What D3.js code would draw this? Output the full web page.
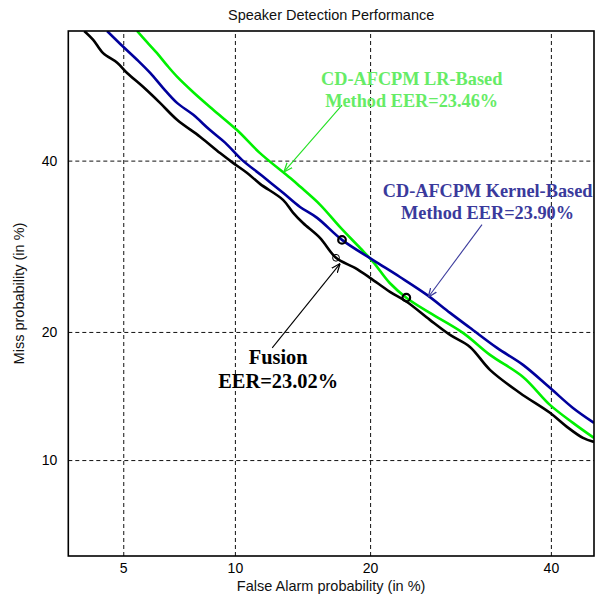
<!DOCTYPE html>
<html>
<head>
<meta charset="utf-8">
<script src="https://cdn.jsdelivr.net/npm/d3@7"></script>
<style>
  html, body { margin: 0; padding: 0; background: #fff; }
  svg { display: block; }
</style>
</head>
<body>
<svg id="det" width="607" height="597"></svg>
<script>
// Speaker detection DET curves (false alarm vs. miss, both in %), normal-deviate axes.

const xTicks = [5, 10, 20, 40];
const yTicks = [10, 20, 40];
const xLimits = [3.41, 45.5];
const yLimits = [5.36, 57.6];

// Fusion system
const fusionFA   = [3.82, 4.07, 4.36, 4.80, 5.13, 5.70, 6.36, 7.08, 8.15, 9.18, 9.89, 10.70, 11.51, 13.03, 13.73, 14.46, 15.75, 17.04, 18.65, 19.99, 21.86, 23.53, 25.88, 28.05, 30.27, 32.58, 36.17, 39.88, 42.03, 44.08, 45.5];
const fusionMiss = [57.6, 56.4, 54.6, 53.3, 51.9, 50.0, 47.8, 45.5, 43.2, 41.0, 39.7, 38.4, 36.95, 34.9, 33.3, 32.0, 30.2, 27.86, 26.7, 25.6, 24.07, 23.0, 21.18, 19.72, 18.59, 16.56, 14.66, 13.15, 12.15, 11.40, 11.14];

// CD-AFCPM kernel-based method
const kernelFA   = [4.48, 4.99, 5.48, 5.97, 6.48, 7.08, 7.81, 8.65, 9.45, 10.41, 11.64, 13.03, 14.24, 15.53, 17.54, 20.27, 22.83, 25.57, 28.05, 30.27, 33.41, 36.54, 39.88, 42.80, 45.5];
const kernelMiss = [57.6, 55.5, 53.7, 51.9, 49.86, 47.8, 46.2, 44.1, 42.4, 40.1, 38.0, 35.8, 34.0, 32.64, 29.96, 27.6, 25.69, 23.75, 21.88, 20.40, 18.50, 16.99, 15.07, 13.51, 12.43];

// CD-AFCPM LR-based method
const lrFA   = [5.48, 5.85, 6.24, 6.66, 7.08, 7.81, 8.80, 10.12, 11.51, 13.54, 14.24, 15.75, 17.38, 19.10, 20.27, 21.86, 23.53, 25.88, 29.48, 32.58, 36.54, 39.88, 42.80, 45.5];
const lrMiss = [57.6, 56.1, 54.6, 52.9, 51.4, 49.3, 46.9, 44.1, 41.0, 37.7, 36.6, 34.3, 31.5, 29.0, 27.4, 25.0, 23.4, 21.88, 19.91, 17.87, 15.96, 13.74, 12.43, 11.40];

// Operating points marked on the curves
const pointSeries = ["kernel", "lr", "fusion"];
const pointFA     = [17.54, 23.46, 17.04];
const pointMiss   = [29.96, 23.46, 27.86];

// Callouts: text lines, text anchor (FA, Miss), arrow start and arrow tip (FA, Miss)
const calloutSeries = ["lr", "kernel", "fusion"];
const calloutText = [
  ["CD-AFCPM LR-Based", "Method EER=23.46%"],
  ["CD-AFCPM Kernel-Based", "Method EER=23.90%"],
  ["Fusion", "EER=23.02%"]
];
const calloutAnchorFA   = [24.0, 32.3, 12.7];
const calloutAnchorMiss = [50.3, 35.2, 17.1];
const arrowFromFA   = [17.54, 31.65, 12.3];
const arrowFromMiss = [47.5, 31.8, 18.5];
const arrowToFA     = [13.09, 25.7, 17.38];
const arrowToMiss   = [38.5, 23.5, 27.2];

// ---- normal deviate (inverse standard normal CDF, Acklam's approximation)
function invNorm(p) {
  const a = [-3.969683028665376e+01, 2.209460984245205e+02, -2.759285104469687e+02, 1.383577518672690e+02, -3.066479806614716e+01, 2.506628277459239e+00];
  const b = [-5.447609879822406e+01, 1.615858368580409e+02, -1.556989798598866e+02, 6.680131188771972e+01, -1.328068155288572e+01];
  const c = [-7.784894002430293e-03, -3.223964580411365e-01, -2.400758277161838e+00, -2.549732539343734e+00, 4.374664141464968e+00, 2.938163982698783e+00];
  const d = [7.784695709041462e-03, 3.224671290700398e-01, 2.445134137142996e+00, 3.754408661907416e+00];
  const pl = 0.02425, ph = 1 - pl;
  let q, r;
  if (p < pl) {
    q = Math.sqrt(-2 * Math.log(p));
    return (((((c[0]*q + c[1])*q + c[2])*q + c[3])*q + c[4])*q + c[5]) / ((((d[0]*q + d[1])*q + d[2])*q + d[3])*q + 1);
  }
  if (p <= ph) {
    q = p - 0.5; r = q * q;
    return (((((a[0]*r + a[1])*r + a[2])*r + a[3])*r + a[4])*r + a[5])*q / (((((b[0]*r + b[1])*r + b[2])*r + b[3])*r + b[4])*r + 1);
  }
  q = Math.sqrt(-2 * Math.log(1 - p));
  return -(((((c[0]*q + c[1])*q + c[2])*q + c[3])*q + c[4])*q + c[5]) / ((((d[0]*q + d[1])*q + d[2])*q + d[3])*q + 1);
}
const probit = pct => invNorm(pct / 100);

// ---- layout
const W = 607, H = 597;
const plot = { left: 68.3, right: 594, top: 31, bottom: 556 };

const xz = d3.scaleLinear().domain(xLimits.map(probit)).range([plot.left, plot.right]);
const yz = d3.scaleLinear().domain(yLimits.map(probit)).range([plot.bottom, plot.top]);
const X = pct => xz(probit(pct));
const Y = pct => yz(probit(pct));

const svg = d3.select("#det");
svg.append("rect").attr("width", W).attr("height", H).attr("fill", "#fff");

const sans = "'Liberation Sans', Arial, Helvetica, sans-serif";
const serif = "'Liberation Serif', 'Times New Roman', Times, serif";

const colors = { fusion: "#000000", kernel: "#00009c", lr: "#00f000" };
const textColors = { fusion: "#000000", kernel: "#3a3a9c", lr: "#66ec66" };
const arrowColors = { fusion: "#000000", kernel: "#3a3a9c", lr: "#22e022" };

svg.append("defs").append("clipPath").attr("id", "plotClip")
  .append("rect")
  .attr("x", plot.left).attr("y", plot.top)
  .attr("width", plot.right - plot.left).attr("height", plot.bottom - plot.top);

// ---- grid (dashed)
const grid = svg.append("g").attr("class", "grid");
const xGrid = d3.axisBottom(xz)
  .tickValues(xTicks.map(probit))
  .tickSize(-(plot.bottom - plot.top))
  .tickFormat("");
grid.append("g").attr("transform", `translate(0,${plot.bottom})`).call(xGrid)
  .call(g => g.select(".domain").remove())
  .call(g => g.selectAll("line").attr("stroke", "#111").attr("stroke-width", 1).attr("stroke-dasharray", "4,3"));
const yGrid = d3.axisLeft(yz)
  .tickValues(yTicks.map(probit))
  .tickSize(-(plot.right - plot.left))
  .tickFormat("");
grid.append("g").attr("transform", `translate(${plot.left},0)`).call(yGrid)
  .call(g => g.select(".domain").remove())
  .call(g => g.selectAll("line").attr("stroke", "#111").attr("stroke-width", 1).attr("stroke-dasharray", "4,3"));

// ---- axes tick labels
const xAxis = d3.axisBottom(xz)
  .tickValues(xTicks.map(probit))
  .tickFormat((d, i) => xTicks[i])
  .tickSize(0).tickPadding(7);
svg.append("g").attr("transform", `translate(0,${plot.bottom})`).call(xAxis)
  .call(g => g.select(".domain").remove())
  .call(g => g.selectAll("text").attr("font-family", sans).attr("font-size", 14).attr("fill", "#000"));

const yAxis = d3.axisLeft(yz)
  .tickValues(yTicks.map(probit))
  .tickFormat((d, i) => yTicks[i])
  .tickSize(0).tickPadding(11);
svg.append("g").attr("transform", `translate(${plot.left},0)`).call(yAxis)
  .call(g => g.select(".domain").remove())
  .call(g => g.selectAll("text").attr("font-family", sans).attr("font-size", 14).attr("fill", "#000"));

// ---- curves
const series = [
  { key: "lr", fa: lrFA, miss: lrMiss },
  { key: "kernel", fa: kernelFA, miss: kernelMiss },
  { key: "fusion", fa: fusionFA, miss: fusionMiss }
];
const line = d3.line()
  .x(d => X(d[0])).y(d => Y(d[1]))
  .curve(d3.curveCatmullRom.alpha(0.5));
const curves = svg.append("g").attr("clip-path", "url(#plotClip)");
curves.selectAll("path")
  .data(series)
  .join("path")
  .attr("d", s => line(s.fa.map((v, i) => [v, s.miss[i]])))
  .attr("fill", "none")
  .attr("stroke", s => colors[s.key])
  .attr("stroke-width", 2.6)
  .attr("stroke-linejoin", "round");

// ---- operating point markers
const pts = pointSeries.map((k, i) => ({ key: k, fa: pointFA[i], miss: pointMiss[i] }));
svg.append("g").selectAll("circle")
  .data(pts)
  .join("circle")
  .attr("cx", d => X(d.fa))
  .attr("cy", d => Y(d.miss))
  .attr("r", d => d.key === "fusion" ? 3.4 : 3.8)
  .attr("fill", "none")
  .attr("stroke", "#000")
  .attr("stroke-width", d => d.key === "fusion" ? 1 : 2.2);

// ---- callouts with arrows
const defs = svg.select("defs");
calloutSeries.forEach(k => {
  defs.append("marker")
    .attr("id", "arrow-" + k)
    .attr("viewBox", "0 0 10 10")
    .attr("refX", 10).attr("refY", 5)
    .attr("markerWidth", 9).attr("markerHeight", 9)
    .attr("markerUnits", "userSpaceOnUse")
    .attr("orient", "auto")
    .append("path")
    .attr("d", "M0,1 L10,5 L0,9")
    .attr("fill", "none")
    .attr("stroke", arrowColors[k])
    .attr("stroke-width", 1.4);
});

const callouts = calloutSeries.map((k, i) => ({
  key: k,
  lines: calloutText[i],
  ax: X(calloutAnchorFA[i]), ay: Y(calloutAnchorMiss[i]),
  x1: X(arrowFromFA[i]), y1: Y(arrowFromMiss[i]),
  x2: X(arrowToFA[i]), y2: Y(arrowToMiss[i])
}));

const cg = svg.append("g");
cg.selectAll("line")
  .data(callouts)
  .join("line")
  .attr("x1", d => d.x1).attr("y1", d => d.y1)
  .attr("x2", d => d.x2).attr("y2", d => d.y2)
  .attr("stroke", d => arrowColors[d.key])
  .attr("stroke-width", 1.1)
  .attr("marker-end", d => `url(#arrow-${d.key})`);

callouts.forEach(d => {
  const fs = d.key === "fusion" ? 20.4 : 18.3;
  const gap = d.key === "fusion" ? 24 : 22;
  const t = cg.append("text")
    .attr("font-family", serif)
    .attr("font-weight", "bold")
    .attr("font-size", fs)
    .attr("fill", textColors[d.key])
    .attr("text-anchor", "middle");
  d.lines.forEach((s, j) => {
    t.append("tspan").attr("x", d.ax).attr("y", d.ay + j * gap).text(s);
  });
});

// ---- frame
svg.append("rect")
  .attr("x", plot.left).attr("y", plot.top)
  .attr("width", plot.right - plot.left).attr("height", plot.bottom - plot.top)
  .attr("fill", "none").attr("stroke", "#000").attr("stroke-width", 1.6);

// ---- titles
svg.append("text")
  .attr("x", (plot.left + plot.right) / 2).attr("y", 20)
  .attr("text-anchor", "middle")
  .attr("font-family", sans).attr("font-size", 14.5).attr("fill", "#111")
  .text("Speaker Detection Performance");

svg.append("text")
  .attr("x", (plot.left + plot.right) / 2).attr("y", 591)
  .attr("text-anchor", "middle")
  .attr("font-family", sans).attr("font-size", 14.5).attr("fill", "#111")
  .text("False Alarm probability (in %)");

svg.append("text")
  .attr("transform", `translate(24,${(plot.top + plot.bottom) / 2}) rotate(-90)`)
  .attr("text-anchor", "middle")
  .attr("font-family", sans).attr("font-size", 14.5).attr("fill", "#111")
  .text("Miss probability (in %)");
</script>
</body>
</html>
